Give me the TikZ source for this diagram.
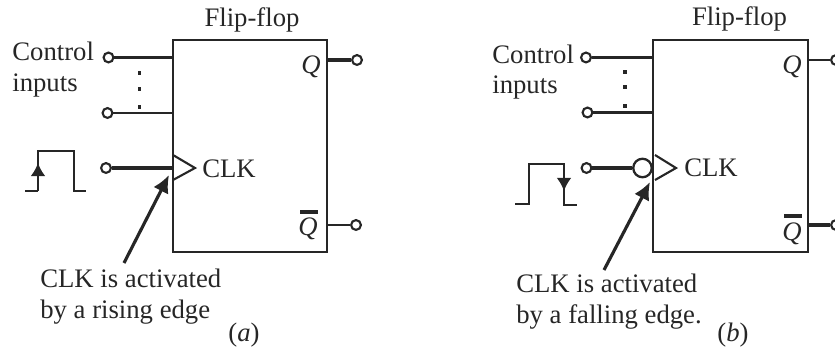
\documentclass[tikz,border=0pt]{standalone}
\usepackage{fontspec}
\setmainfont{Liberation Serif}
\usepackage{tikz}
\usetikzlibrary{arrows.meta,positioning}
\definecolor{ink}{HTML}{262626}
\tikzset{
  pin/.style={circle,draw=ink,line width=1.2pt,fill=white,inner sep=0pt,minimum size=5.6pt},
  ffbox/.style={draw=ink,line width=1.5pt,inner sep=0pt,minimum height=4.24cm},
  lbl/.style={text=ink,inner sep=0pt,font=\fontsize{15.2}{17.6}\selectfont},
  wire/.style={draw=ink,line width=1.2pt},
  thickwire/.style={draw=ink,line width=1.8pt},
  tip/.style={draw=ink,line width=1.2pt,-{Latex[length=7.5pt,width=8.5pt]}},
  bigtip/.style={draw=ink,line width=1.8pt,-{Latex[length=10pt,width=9.5pt]}}
}
\begin{document}
\begin{tikzpicture}[x=0.02cm,y=-0.02cm]
\useasboundingbox (0,0) rectangle (835,347);
% left flip-flop
\node[ffbox,minimum width=3.08cm] (ffa) at (250,146) {};
\node[lbl] (fla) at (252,20) {Flip-flop};
\node[lbl,anchor=base west] (coa) at (12,61) {Control};
\node[lbl,anchor=base west] (ina) at (12,92) {inputs};
\node[pin] (pa1) at (108.5,57.5) {};
\node[pin] (pa2) at (107.5,113) {};
\node[pin] (pa3) at (106,168) {};
\node[pin] (pa4) at (357,60) {};
\node[pin] (pa5) at (356,225) {};
\draw[wire] (pa1) -- (pa1-|ffa.west);
\draw[wire] (pa2) -- (pa2-|ffa.west);
\draw[thickwire] (pa3) -- (pa3-|ffa.west);
\draw[thickwire] (pa4) -- (pa4-|ffa.east);
\draw[wire] (pa5) -- (pa5-|ffa.east);
\foreach \y in {73,89,107} \fill[ink] (137.5,\y-1.5) rectangle +(3.5,3.5);
\coordinate (ta0) at (173,155);
\coordinate (ta1) at (195,168);
\coordinate (ta2) at (173,180);
\draw[wire] (ta0)--(ta1)--(ta2);
\node[lbl,anchor=west] (cka) at (202,169) {CLK};
\node[lbl] (qa) at (311,67) {\textit{Q}};
\node[lbl] (qba) at (308,229) {\textit{Q}};
\draw[draw=ink,line width=1.8pt] (300,212) -- (318,212);
% rising edge
\coordinate (ea0) at (25,191);
\coordinate (ea1) at (38,191);
\coordinate (ea2) at (38,151);
\coordinate (ea3) at (74,151);
\coordinate (ea4) at (74,191);
\coordinate (ea5) at (86,191);
\draw[wire] (ea0)--(ea1);
\draw[wire] (ea1)--(ea2)--(ea3)--(ea4)--(ea5);
\draw[tip] (ea1) -- (38,163);
\coordinate (aa) at (124,263);
\coordinate (ab) at (169,175);
\draw[bigtip] (aa) -- (ab);
\node[lbl,anchor=base west] (ca1) at (40,288) {CLK is activated};
\node[lbl,anchor=base west] (ca2) at (40,319) {by a rising edge};
\node[lbl] (suba) at (244,335) {(\textit{a})};
% right flip-flop
\node[ffbox,minimum width=3.1cm] (ffb) at (730.5,146) {};
\node[lbl] (flb) at (739.5,19) {Flip-flop};
\node[lbl,anchor=base west] (cob) at (492,64) {Control};
\node[lbl,anchor=base west] (inb) at (492,94) {inputs};
\node[pin] (pb1) at (586,57.5) {};
\node[pin] (pb2) at (587.5,112.5) {};
\node[pin] (pb3) at (586.5,168) {};
\node[pin] (pb4) at (836,60) {};
\node[pin] (pb5) at (836,225) {};
\node[circle,draw=ink,line width=1.3pt,inner sep=0pt,minimum size=.37cm] (bub) at (642.5,168) {};
\draw[thickwire] (pb1) -- (pb1-|ffb.west);
\draw[thickwire] (pb2) -- (pb2-|ffb.west);
\draw[thickwire] (pb3) -- (bub);
\draw[wire] (pb4) -- (pb4-|ffb.east);
\draw[thickwire] (pb5) -- (pb5-|ffb.east);
\foreach \y in {72,87,106} \fill[ink] (623,\y-1.5) rectangle +(3.5,3.5);
\coordinate (tb0) at (655,155);
\coordinate (tb1) at (676,168);
\coordinate (tb2) at (655,180);
\draw[wire] (tb0)--(tb1)--(tb2);
\node[lbl,anchor=west] (ckb) at (684,168) {CLK};
\node[lbl] (qb) at (792,67) {\textit{Q}};
\node[lbl] (qbb) at (792,234) {\textit{Q}};
\draw[draw=ink,line width=1.8pt] (784,216) -- (802,216);
% falling edge
\coordinate (eb0) at (515,204);
\coordinate (eb1) at (529,204);
\coordinate (eb2) at (529,164);
\coordinate (eb3) at (564,164);
\coordinate (eb4) at (564,205);
\coordinate (eb5) at (577,205);
\draw[wire] (eb0)--(eb1)--(eb2)--(eb3)--(eb4)--(eb5);
\draw[tip] (eb3) -- (564,191);
\coordinate (ba) at (604,270);
\coordinate (bb) at (650,182);
\draw[bigtip] (ba) -- (bb);
\node[lbl,anchor=base west] (cb1) at (516,293) {CLK is activated};
\node[lbl,anchor=base west] (cb2) at (516,324) {by a falling edge.};
\node[lbl] (subb) at (733,335) {(\textit{b})};
\end{tikzpicture}
\end{document}
